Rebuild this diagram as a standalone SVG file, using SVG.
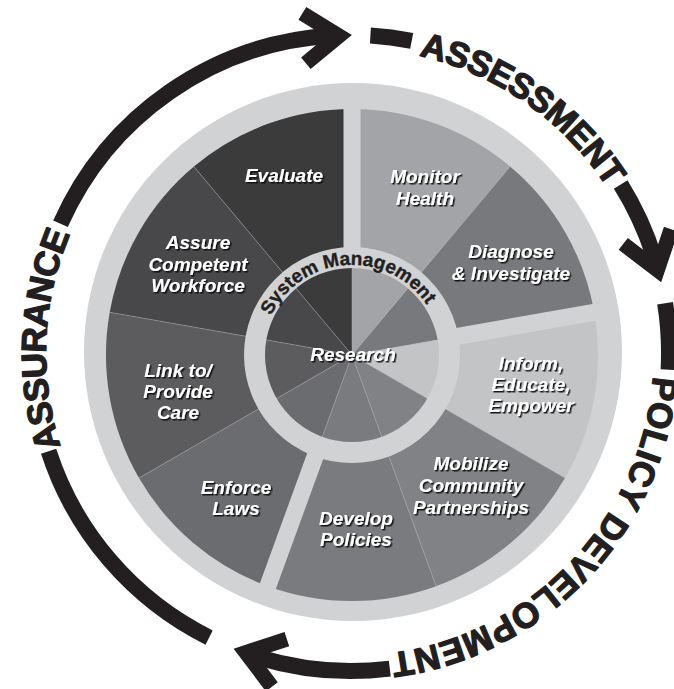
<svg xmlns="http://www.w3.org/2000/svg" width="674" height="689" viewBox="0 0 674 689">
<style>
.lbl{font-family:"Liberation Sans",Arial,sans-serif;font-weight:bold;font-style:italic;font-size:19px;fill:#ffffff;text-anchor:middle;filter:url(#sh)}
.stage{font-family:"Liberation Sans",Arial,sans-serif;font-weight:bold;font-size:35px;fill:#231f20;stroke:#231f20;stroke-width:1.3;stroke-linejoin:round;letter-spacing:-0.6px}
.arc{fill:none;stroke:#231f20;stroke-width:16}
.sep{stroke:#b9babd;stroke-width:0.6;stroke-opacity:0.7}
.spoke{stroke:#d1d2d4;stroke-width:17}
</style>
<defs>
<filter id="sh" x="-10%" y="-20%" width="130%" height="160%"><feDropShadow dx="1.5" dy="1.5" stdDeviation="0.4" flood-color="#111111" flood-opacity="0.95"/></filter>
<path id="chev" d="M -47 -25 L -12 0 L -47 25" fill="none" stroke="#231f20" stroke-width="15" stroke-linejoin="miter"/>
<path id="p-assess" d="M 351 48 A 305 305 0 0 1 637.6 248.7"/>
<path id="p-policy" d="M 654.0 350.3 A 303 303 0 0 1 364.2 655.7"/>
<path id="p-assur" d="M 86.9 505.5 A 305 305 0 0 1 101.2 178.1"/>
<path id="p-sys" d="M 267.4 324.2 A 90 90 0 0 1 431.5 312.7"/>
</defs>
<rect width="674" height="689" fill="#ffffff"/>
<circle cx="353" cy="352" r="269" fill="#d1d2d4"/>

<g id="monitor-health"><path d="M 352 355 L 352 109 A 246 246 0 0 1 510.1 166.6 Z" fill="#a3a4a7"/>
<text class="lbl"><tspan x="425" y="183">Monitor</tspan><tspan x="425" y="205">Health</tspan></text></g>
<g id="diagnose-investigate"><path d="M 352 355 L 510.1 166.6 A 246 246 0 0 1 594.3 312.3 Z" fill="#78797c"/>
<text class="lbl"><tspan x="511" y="258">Diagnose</tspan><tspan x="511" y="280">&amp; Investigate</tspan></text></g>
<g id="inform-educate-empower"><path d="M 352 355 L 594.3 312.3 A 246 246 0 0 1 565.0 478.0 Z" fill="#c3c4c6"/>
<text class="lbl"><tspan x="531" y="370">Inform,</tspan><tspan x="531" y="391">Educate,</tspan><tspan x="531" y="412">Empower</tspan></text></g>
<g id="mobilize-partnerships"><path d="M 352 355 L 565.0 478.0 A 246 246 0 0 1 436.1 586.2 Z" fill="#818286"/>
<text class="lbl"><tspan x="471" y="470">Mobilize</tspan><tspan x="471" y="492">Community</tspan><tspan x="471" y="514">Partnerships</tspan></text></g>
<g id="develop-policies"><path d="M 352 355 L 436.1 586.2 A 246 246 0 0 1 267.9 586.2 Z" fill="#7a7b7e"/>
<text class="lbl"><tspan x="356" y="525">Develop</tspan><tspan x="356" y="546">Policies</tspan></text></g>
<g id="enforce-laws"><path d="M 352 355 L 267.9 586.2 A 246 246 0 0 1 139.0 478.0 Z" fill="#6b6c6f"/>
<text class="lbl"><tspan x="236" y="494">Enforce</tspan><tspan x="236" y="515">Laws</tspan></text></g>
<g id="link-provide-care"><path d="M 352 355 L 139.0 478.0 A 246 246 0 0 1 109.7 312.3 Z" fill="#5c5c5f"/>
<text class="lbl"><tspan x="178" y="377">Link to/</tspan><tspan x="178" y="398">Provide</tspan><tspan x="178" y="419">Care</tspan></text></g>
<g id="assure-workforce"><path d="M 352 355 L 109.7 312.3 A 246 246 0 0 1 193.9 166.6 Z" fill="#48484a"/>
<text class="lbl"><tspan x="198" y="249">Assure</tspan><tspan x="198" y="271">Competent</tspan><tspan x="198" y="292">Workforce</tspan></text></g>
<g id="evaluate"><path d="M 352 355 L 193.9 166.6 A 246 246 0 0 1 352 109 Z" fill="#3b3b3c"/>
<text class="lbl"><tspan x="284" y="182">Evaluate</tspan></text></g>

<g id="dividers">
<line class="sep" x1="352" y1="355" x2="510.1" y2="166.6"/>
<line class="sep" x1="352" y1="355" x2="565.0" y2="478.0"/>
<line class="sep" x1="352" y1="355" x2="436.1" y2="586.2"/>
<line class="sep" x1="352" y1="355" x2="139.0" y2="478.0"/>
<line class="sep" x1="352" y1="355" x2="109.7" y2="312.3"/>
<line class="sep" x1="352" y1="355" x2="193.9" y2="166.6"/>
<line class="sep" x1="352" y1="355" x2="352" y2="109"/>
<line class="sep" x1="352" y1="355" x2="594.3" y2="312.3"/>
<line class="sep" x1="352" y1="355" x2="267.9" y2="586.2"/>
<line class="spoke" x1="352" y1="255" x2="352" y2="104"/>
<line class="spoke" x1="450.5" y1="337.6" x2="598.2" y2="311.6"/>
<line class="spoke" x1="317.8" y1="449.0" x2="266.5" y2="589.9"/>
</g>

<g id="system-management">
<circle cx="352" cy="355" r="97.5" fill="none" stroke="#d1d2d4" stroke-width="21"/>
<text font-family="Liberation Sans, Arial, sans-serif" font-weight="bold" font-size="19" fill="#231f20" stroke="#231f20" stroke-width="0.4" text-anchor="middle"><textPath href="#p-sys" startOffset="50%">System Management</textPath></text>
</g>
<g id="research"><text class="lbl" x="353" y="361">Research</text></g>

<g id="connectors">
<path class="arc" d="M 60.5 223.7 A 318 318 0 0 1 330.5 35.7"/>
<use href="#chev" transform="translate(351 35) rotate(-4)"/>
<path class="arc" d="M 370.4 35.6 A 318 318 0 0 1 411.7 40.8"/>
<path class="arc" d="M 620.7 184.5 A 318 318 0 0 1 656.6 265.4"/>
<use href="#chev" transform="translate(660.9 281.5) rotate(73)"/>
<path class="arc" d="M 665.1 303.3 A 318 318 0 0 1 668.6 369.6"/>
<path class="arc" d="M 389.8 668.6 A 318 318 0 0 1 257.4 657.0"/>
<use href="#chev" transform="translate(234.5 648.9) rotate(197.5)"/>
<path class="arc" d="M 209.1 637.6 A 318 318 0 0 1 48.6 451.3"/>
</g>

<g id="stages">
<text class="stage" text-anchor="middle"><textPath href="#p-assess" startOffset="50%">ASSESSMENT</textPath></text>
<text class="stage" text-anchor="middle" style="letter-spacing:0.4px"><textPath href="#p-policy" startOffset="50%">POLICY DEVELOPMENT</textPath></text>
<text class="stage" text-anchor="middle"><textPath href="#p-assur" startOffset="50%">ASSURANCE</textPath></text>
</g>
</svg>
